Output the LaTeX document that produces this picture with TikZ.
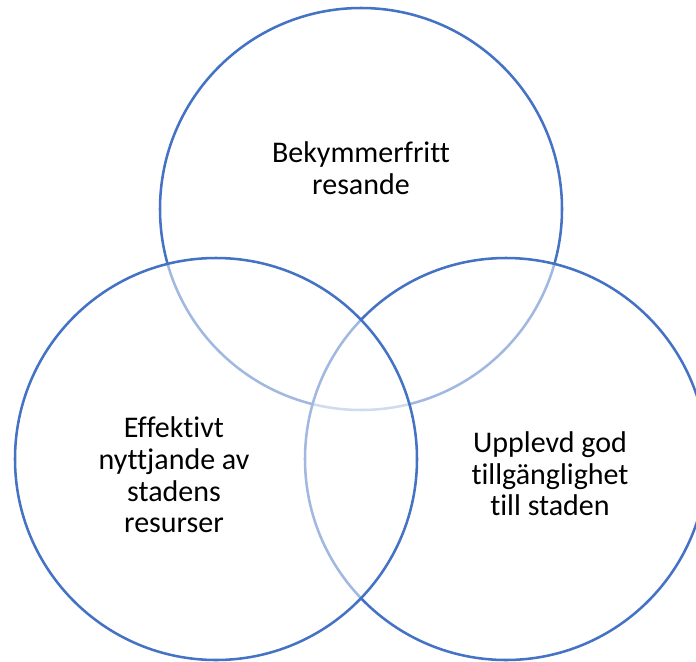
\documentclass[tikz,border=0pt]{standalone}
\usepackage{fontspec}
\setmainfont[Ligatures=NoCommon]{Carlito}
\definecolor{vennblue}{HTML}{4472C4}

\begin{document}
\begin{tikzpicture}[
    x=0.75pt, y=-0.75pt,
    set/.style={circle,draw=vennblue,line width=1.9pt,fill=white,fill opacity=0.5,
      draw opacity=1,inner sep=0pt,minimum size=301.5pt},
    caption/.style={align=center,text=black,font=\fontsize{22.5}{23.7}\selectfont}
    ]

    \useasboundingbox (0,0) rectangle (696,661);
    \clip (0,0) rectangle (696,661);

    % circles (top, right, left):
    \node (top) at (361,209) [set] {};
    \node (right) at (506,459) [set] {};
    \node (left) at (216,459) [set] {};

    % texts:
    \node (toptext) at (361,168) [caption] {Bekymmerfritt\\resande};
    \node (lefttext) at (174,475) [caption] {Effektivt\\nyttjande av\\stadens\\resurser};
    \node (righttext) at (550,474) [caption] {Upplevd god\\tillgänglighet\\till staden};

  \end{tikzpicture}
\end{document}
